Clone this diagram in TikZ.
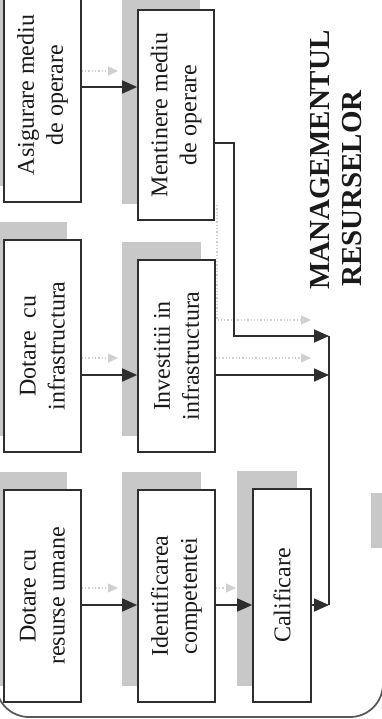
\documentclass[tikz,border=0pt]{standalone}
\usepackage{fontspec}
\setmainfont{Liberation Serif}
\usetikzlibrary{arrows.meta,calc,backgrounds}
\definecolor{ink}{HTML}{2E2E2E}
\definecolor{txt}{HTML}{1A1A1A}
\definecolor{shadec}{HTML}{C8C8C8}
\definecolor{ghostc}{HTML}{D0D0D0}
\definecolor{framec}{HTML}{5A5A5A}
\begin{document}
\begin{tikzpicture}[x=1pt,y=-1pt,
  box/.style={draw=ink, line width=1.7pt, fill=white, rotate=90, align=center,
    inner sep=0pt, text=txt, font=\fontsize{24}{29}\selectfont},
  arr/.style={draw=ink, line width=1.7pt, -{Triangle[length=15pt,width=13pt]}},
  plainline/.style={draw=ink, line width=1.7pt},
  ghost/.style={draw=ghostc, line width=1.3pt, dotted, -{Triangle[length=10pt,width=9pt]}},
  titletxt/.style={rotate=90, inner sep=0pt, text=txt, font=\bfseries\fontsize{29}{32}\selectfont}]
\useasboundingbox (0,0) rectangle (382,719);
\clip (0,0) rectangle (382,719);

% frame and side mark
\draw[draw=framec, line width=1.8pt, rounded corners=33pt] (-4,-60) rectangle (383,717);
\fill[shadec] (371,493) rectangle (386,548);

% boxes
\node[box, minimum width=214pt, minimum height=77pt] (b1) at (42.5,95) {Asigurare mediu\\de operare};
\node[box, minimum width=212pt, minimum height=77pt] (b2) at (42.5,346) {Dotare\hspace{0.55em}cu\\infrastructura};
\node[box, minimum width=212pt, minimum height=77pt] (b3) at (42.5,596) {Dotare cu\\resurse umane};
\node[box, minimum width=210pt, minimum height=76pt] (b4) at (176,115) {Mentinere mediu\\de operare};
\node[box, minimum width=192pt, minimum height=77pt] (b5) at (176.5,356) {Investitii in\\infrastructura};
\node[box, minimum width=212pt, minimum height=77pt] (b6) at (176.5,596) {Identificarea\\competentei};
\node[box, minimum width=213pt, minimum height=58pt] (b7) at (282,595.5) {Calificare};

% shadows
\begin{scope}[on background layer]
\foreach \n in {b1,b2,b3,b4,b5,b6,b7}
  \fill[shadec] ([shift={(-15,-17)}]\n.north west) rectangle ([shift={(-15,-17)}]\n.south east);
\end{scope}

% title
\node[titletxt, anchor=base west] (t1) at (329,290) {MANAGEMENTUL};
\node[titletxt, anchor=base west] (t2) at (361,287) {RESURSELOR};

% faint arrows
\coordinate (g1) at (118,71);
\coordinate (g2) at (118,358);
\coordinate (g3) at (118,588);
\coordinate (g4) at (236,588);
\coordinate (g5s) at (217,205);
\coordinate (g5) at (311,320);
\coordinate (g6) at (311,358);
\draw[ghost] (b1.south |- g1) -- (g1);
\draw[ghost] (b2.south |- g2) -- (g2);
\draw[ghost] (b3.south |- g3) -- (g3);
\draw[ghost] (b6.south |- g4) -- (g4);
\draw[ghost] (g5s) |- (g5);
\draw[ghost] (b5.south |- g6) -- (g6);

% connectors
\coordinate (vt) at (329,336);
\coordinate (vb) at (329,605);
\draw[plainline] (vt) -- (vb);
\draw[arr] (b1.south |- 0,87) -- (b4.north |- 0,87);
\draw[arr] (b2.south |- 0,375) -- (b5.north |- 0,375);
\draw[arr] (b3.south |- 0,605) -- (b6.north |- 0,605);
\draw[arr] (b6.south |- 0,605) -- (b7.north |- 0,605);
\draw[arr] (b4.south |- 0,143) -- ++(19,0) |- (vt);
\draw[arr] (b5.south |- 0,375) -- (vt |- 0,375);
\draw[arr] (b7.south |- 0,605) -- (vb);
\end{tikzpicture}
\end{document}
